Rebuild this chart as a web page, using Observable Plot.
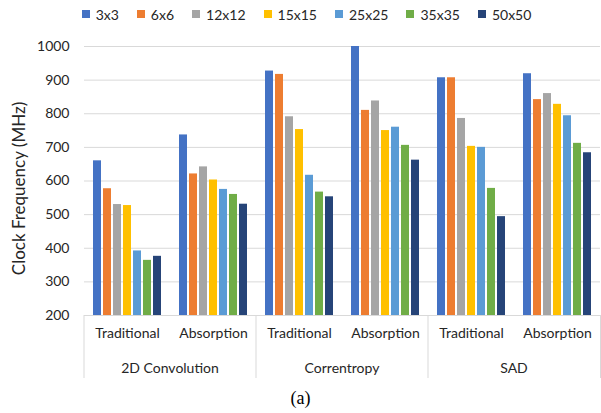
<!DOCTYPE html>
<html><head><meta charset="utf-8">
<script src="https://cdn.jsdelivr.net/npm/d3@7"></script>
<script src="https://cdn.jsdelivr.net/npm/@observablehq/plot@0.6"></script>
<style>
body{margin:0;background:#fff;font-family:Lato,"Noto Sans",sans-serif;}
#wrap{width:601px;height:413px;position:relative;overflow:hidden;background:#fff}
#legend{height:28px;display:flex;justify-content:center;align-items:center;gap:18px;padding-left:12px;font-size:14px;color:#262626}
.item{display:flex;align-items:center;gap:6px}
.sw{width:8px;height:8px;display:inline-block}
#chart svg{display:block}
#caption{text-align:center;font-family:"Liberation Serif","Times New Roman",serif;font-size:18px;line-height:26px;color:#000}
</style></head>
<body><div id="wrap"><div id="legend"></div><div id="chart"></div><div id="caption">(a)</div></div>
<script>
const groups = ["2D Convolution","Correntropy","SAD"];
const methods = ["Traditional","Absorption"];
const sizes = ["3x3","6x6","12x12","15x15","25x25","35x35","50x50"];
const colors = ["#4472C4","#ED7D31","#A5A5A5","#FFC000","#5B9BD5","#70AD47","#264478"];
const yTicks = [200,300,400,500,600,700,800,900,1000];
const yTitle = "Clock Frequency (MHz)";

const conv2dTraditional = [660,577,530,527,392,364,376];
const conv2dAbsorption  = [737,621,642,603,575,560,531];
const corrTraditional   = [927,917,791,753,617,567,553];
const corrAbsorption    = [1000,810,838,750,760,706,662];
const sadTraditional    = [907,907,786,703,700,578,494];
const sadAbsorption     = [919,842,860,828,794,712,684];

const series = {
  "2D Convolution|Traditional": conv2dTraditional,
  "2D Convolution|Absorption": conv2dAbsorption,
  "Correntropy|Traditional": corrTraditional,
  "Correntropy|Absorption": corrAbsorption,
  "SAD|Traditional": sadTraditional,
  "SAD|Absorption": sadAbsorption
};
const clusters = groups.flatMap(g => methods.map(m => g + "|" + m));
const data = clusters.flatMap(c => series[c].map((v, i) => ({cluster: c, size: sizes[i], value: v})));

// legend
const leg = document.getElementById("legend");
sizes.forEach((s, i) => {
  const it = document.createElement("div"); it.className = "item";
  const sw = document.createElement("span"); sw.className = "sw"; sw.style.background = colors[i];
  const t = document.createElement("span"); t.textContent = s;
  it.appendChild(sw); it.appendChild(t); leg.appendChild(it);
});

const plot = Plot.plot({
  width: 601, height: 357,
  marginTop: 18, marginBottom: 70, marginLeft: 83, marginRight: 0,
  style: {fontFamily: "Lato, 'Noto Sans', sans-serif", fontSize: "14px", color: "#262626", background: "#fff"},
  y: {domain: [200, 1000], label: null},
  x: {domain: sizes, paddingInner: 0.2, paddingOuter: 0.83, axis: null},
  fx: {domain: clusters, padding: 0, label: null},
  color: {domain: sizes, range: colors},
  marks: [
    Plot.gridY(yTicks, {stroke: "#d9d9d9", strokeOpacity: 1}),
    Plot.axisY(yTicks, {tickSize: 0, tickPadding: 15, label: null, fontSize: 14, tickFormat: d => String(d)}),
    Plot.axisFx({anchor: "bottom", tickSize: 0, tickPadding: 13, tickFormat: d => d.split("|")[1], label: null, fontSize: 14}),
    Plot.ruleY([200], {stroke: "#d9d9d9"}),
    Plot.barY(data, {fx: "cluster", x: "size", y: "value", fill: "size", clip: "frame"})
  ]
});
document.getElementById("chart").appendChild(plot);

// group labels and separators using the plot's own fx scale
const fx = plot.scale("fx");
const svg = d3.select(plot);
const yScale = plot.scale("y");
const yBase = yScale.apply(200);
const bottomY = yBase + 63;
const g = svg.append("g");
const rangeEnd = fx.range[1];
groups.forEach(grp => {
  const x0 = fx.apply(grp + "|Traditional");
  const xm = fx.apply(grp + "|Absorption");
  g.append("line").attr("x1", x0).attr("x2", x0).attr("y1", yBase).attr("y2", bottomY)
    .attr("stroke", "#d9d9d9");
  g.append("text").attr("x", xm).attr("y", yBase + 52).attr("text-anchor", "middle")
    .attr("dominant-baseline", "central").attr("font-size", 14).attr("fill", "#262626").text(grp);
});
g.append("line").attr("x1", rangeEnd - 0.5).attr("x2", rangeEnd - 0.5).attr("y1", yBase).attr("y2", bottomY).attr("stroke", "#d9d9d9");
const yMid = yScale.apply(600) + 8;
svg.append("text").attr("transform", `translate(18,${yMid}) rotate(-90)`)
  .attr("text-anchor", "middle").attr("dominant-baseline", "central")
  .attr("font-size", 17).attr("fill", "#262626").text(yTitle);
</script></body></html>
